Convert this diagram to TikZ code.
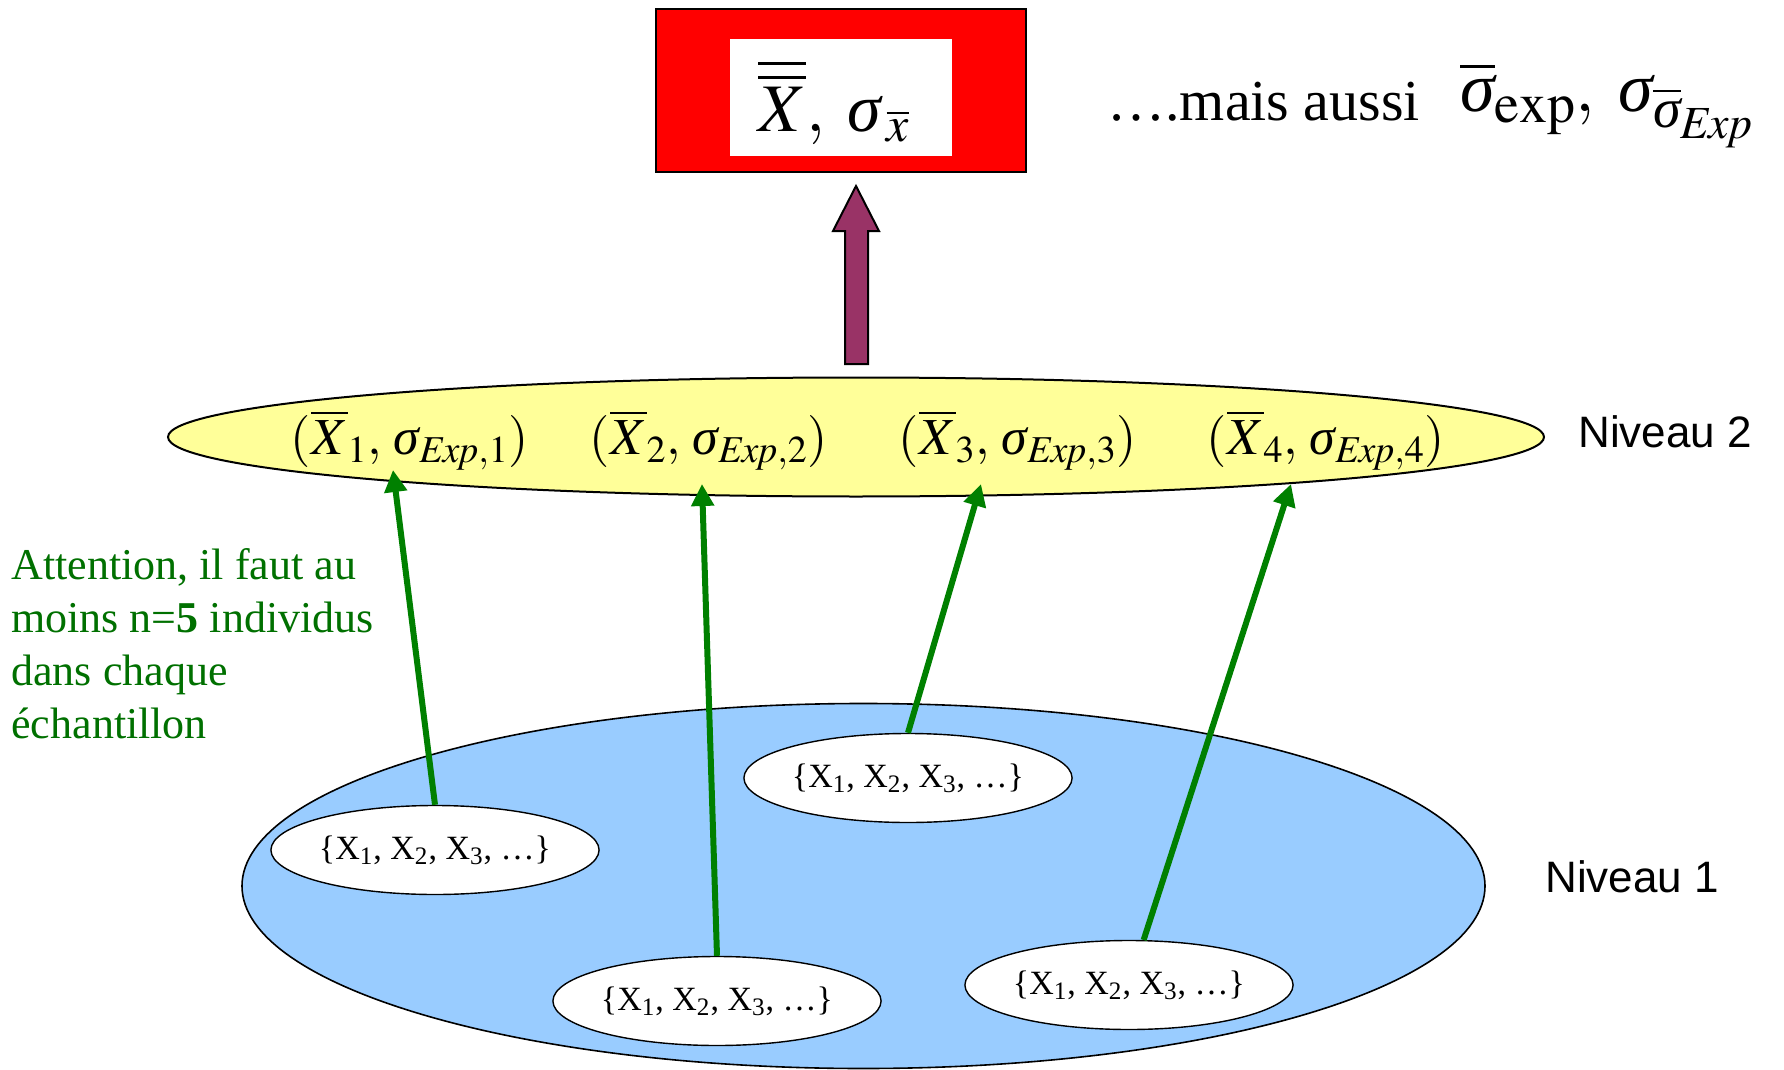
\documentclass[tikz,border=0pt]{standalone}
\usepackage{mathptmx}
\usepackage{amsmath}
\usepackage{fontspec}
\setmainfont{Liberation Serif}
\newfontfamily\arialfont{Liberation Sans}
\usetikzlibrary{shapes.geometric,arrows.meta}
\DeclareMathSizes{26}{26}{19}{15}
\DeclareMathSizes{34}{34}{25}{19}
\DeclareMathSizes{35}{35}{28}{23}
\newcommand{\sig}{\text{\itshape σ}}
\definecolor{boxred}{RGB}{255,0,0}
\definecolor{plum}{RGB}{153,51,102}
\definecolor{lvltwo}{RGB}{255,255,153}
\definecolor{lvlone}{RGB}{153,204,255}
\definecolor{arrgreen}{RGB}{0,128,0}
\definecolor{txtgreen}{RGB}{0,112,0}
\tikzset{
  sample/.style={ellipse, draw=black, line width=0.7pt, fill=white, minimum width=162.5pt, minimum height=44.5pt, inner sep=0pt, font=\fontsize{17}{20}\selectfont},
  meanlbl/.style={inner sep=0pt, font=\fontsize{26}{30}\selectfont},
  garrow/.style={draw=arrgreen, line width=3pt, -{Triangle[length=11pt,width=11pt]}},
  niveau/.style={inner sep=0pt, anchor=west, font=\arialfont\fontsize{22}{26}\selectfont},
}
\begin{document}
\begin{tikzpicture}[x=0.5pt,y=-0.5pt]
\useasboundingbox (0,0) rectangle (1784,1070);
% top box
\node[draw=black, line width=1pt, fill=boxred, minimum width=185pt, minimum height=81.5pt, inner sep=0pt] (box) at (841,90.5) {};
\node[fill=white, minimum width=111pt, minimum height=58.5pt, inner sep=0pt] (inner) at (841,97.5) {};
\node[inner sep=0pt, font=\fontsize{34}{40}\selectfont] (result) at (834,102) {$\overline{\overline{X}},\; \sig_{\,\overline{x}}$};
\node[inner sep=0pt, anchor=base west, font=\fontsize{29}{34}\selectfont] (mais) at (1107,121) {\dots.mais aussi};
\node[inner sep=0pt, anchor=base west, font=\fontsize{35}{40}\selectfont] (also) at (1460,112) {$\overline{\sig}_{\mathrm{exp}},\; \sig_{\overline{\sig}_{\mathit{Exp}}}$};
% block arrow
\draw[fill=plum, draw=black, line width=1pt] (845,364) -- (845,231) -- (833,231) -- (856,186) -- (879,231) -- (868,231) -- (868,364) -- cycle;
% level 2
\node[ellipse, draw=black, line width=1pt, fill=lvltwo, minimum width=688pt, minimum height=59.5pt, inner sep=0pt] (lvl2) at (856,437) {};
\node[meanlbl] (m1) at (410,440) {$(\overline{X}_1,\, \sig_{\mathit{Exp},1})$};
\node[meanlbl] (m2) at (709,440) {$(\overline{X}_2,\, \sig_{\mathit{Exp},2})$};
\node[meanlbl] (m3) at (1018,440) {$(\overline{X}_3,\, \sig_{\mathit{Exp},3})$};
\node[meanlbl] (m4) at (1326,440) {$(\overline{X}_4,\, \sig_{\mathit{Exp},4})$};
\node[niveau] (n2) at (1578,432) {Niveau 2};
% level 1
\node[ellipse, draw=black, line width=0.8pt, fill=lvlone, minimum width=621.5pt, minimum height=182.5pt, inner sep=0pt] (lvl1) at (863.5,886) {};
\node[niveau] (n1) at (1545,877) {Niveau 1};
\node[sample] (e1) at (435,850) {\{X\textsubscript{1}, X\textsubscript{2}, X\textsubscript{3}, \dots\}};
\node[sample] (e2) at (717,1001) {\{X\textsubscript{1}, X\textsubscript{2}, X\textsubscript{3}, \dots\}};
\node[sample] (e3) at (908,778) {\{X\textsubscript{1}, X\textsubscript{2}, X\textsubscript{3}, \dots\}};
\node[sample] (e4) at (1129,985) {\{X\textsubscript{1}, X\textsubscript{2}, X\textsubscript{3}, \dots\}};
% arrow tips
\coordinate (t1) at (393,470);
\coordinate (t2) at (702,484);
\coordinate (t3) at (981,484);
\coordinate (t4) at (1291,484);
\draw[garrow] (e1.north) -- (t1);
\draw[garrow] (e2.north) -- (t2);
\draw[garrow] (e3.north) -- (t3);
\draw[garrow] (e4.72) -- (t4);
% note
\node[inner sep=0pt, anchor=north west, align=left, text=txtgreen, font=\fontsize{22}{26.5}\selectfont] (note) at (11,548) {Attention, il faut au\\moins n=\textbf{5} individus\\dans chaque\\échantillon};
\end{tikzpicture}
\end{document}
